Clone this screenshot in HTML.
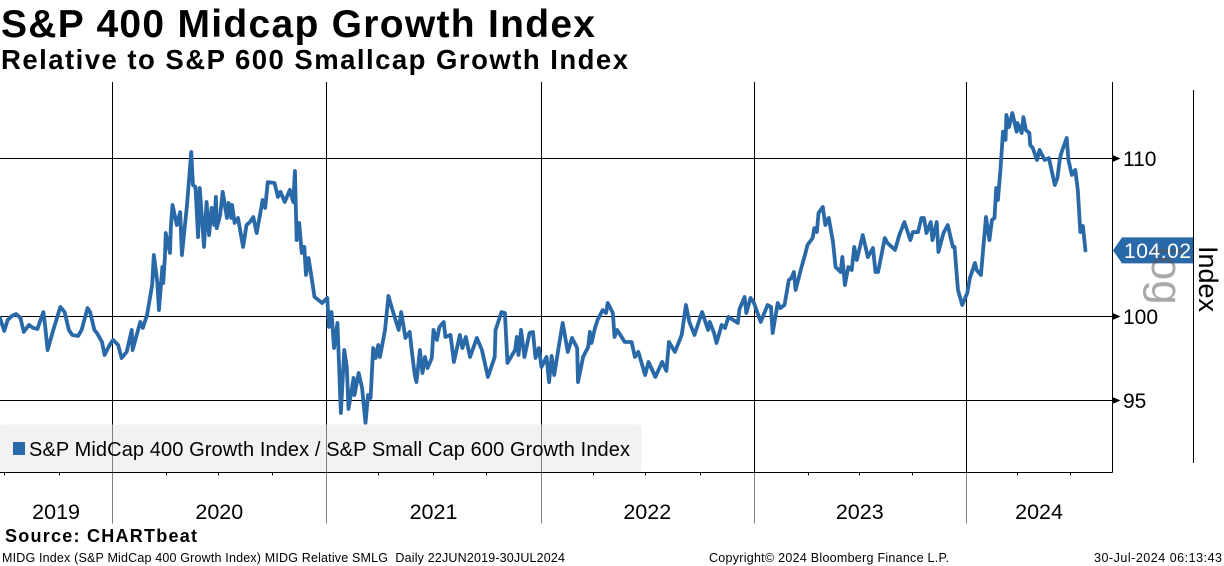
<!DOCTYPE html>
<html lang="en">
<head>
<meta charset="utf-8">
<title>S&amp;P 400 Midcap Growth Index</title>
<style>
html,body{margin:0;padding:0;background:#fff;width:1224px;height:566px;overflow:hidden}
svg{display:block}
text{font-family:"Liberation Sans",sans-serif;fill:#000}
</style>
</head>
<body>
<svg id="chart" xmlns="http://www.w3.org/2000/svg" width="1224" height="566" viewBox="0 0 1224 566">
<text x="1" y="37" font-size="39" font-weight="700" textLength="594" lengthAdjust="spacing">S&amp;P 400 Midcap Growth Index</text>
<text x="1" y="69" font-size="27.5" font-weight="700" textLength="627" lengthAdjust="spacing">Relative to S&amp;P 600 Smallcap Growth Index</text>
<g id="grid"></g>
<path id="series" fill="none" stroke="#2a69a8" stroke-width="3.8" stroke-linejoin="round" stroke-linecap="round"></path>
<rect x="0" y="424.5" width="641.5" height="47.5" rx="3" fill="#f2f2f2"></rect>
<g id="legendGrid"></g>
<rect x="13" y="442" width="12" height="13" fill="#2a69a8"></rect>
<text x="29" y="456" font-size="20" textLength="601" lengthAdjust="spacing">S&amp;P MidCap 400 Growth Index / S&amp;P Small Cap 600 Growth Index</text>
<g id="axes"></g>
<line x1="1193.5" y1="90" x2="1193.5" y2="463" stroke="#000" stroke-width="1" shape-rendering="crispEdges"></line>
<polygon id="lastTag" fill="#2a69a8"></polygon>
<text transform="translate(1152,246) rotate(90)" font-size="44" style="fill:#555" opacity="0.5">log</text>
<text id="lastLabel" x="1124" font-size="21" textLength="67" lengthAdjust="spacing" style="fill:#fff"></text>
<text transform="translate(1199,246) rotate(90)" font-size="27" textLength="66" lengthAdjust="spacing">Index</text>
<text x="5" y="542" font-size="18" font-weight="700" textLength="192" lengthAdjust="spacing">Source: CHARTbeat</text>
<text x="2" y="562" font-size="12.5" textLength="563" lengthAdjust="spacing" xml:space="preserve">MIDG Index (S&amp;P MidCap 400 Growth Index) MIDG Relative SMLG  Daily 22JUN2019-30JUL2024</text>
<text x="709" y="562" font-size="12.5" textLength="240" lengthAdjust="spacing">Copyright© 2024 Bloomberg Finance L.P.</text>
<text x="1094" y="562" font-size="12.5" textLength="128" lengthAdjust="spacing">30-Jul-2024 06:13:43</text>
</svg>
<script>
const sessions = [0,5,9,14,19,24,28,34,39,44,51,53,56,62,67,71,76,81,85,92,96,103,106,111,114,120,123,129,133,139,143,149,155,156,165,168,173,179,181,185,187,191,192,194,195,200,201,203,208,212,214,220,225,227,230,233,235,240,243,246,249,252,254,255,259,262,267,269,272,273,276,280,286,290,294,298,302,309,312,315,323,327,330,335,341,345,347,349,352,355,358,360,363,367,370,379,385,387,390,393,397,401,405,408,410,416,417,422,426,430,433,436,439,442,445,447,453,457,461,469,472,477,482,485,488,490,494,497,500,503,508,510,514,517,522,524,530,534,541,544,548,553,561,567,574,582,583,590,594,597,606,608,610,613,617,623,627,630,634,637,643,646,649,652,659,662,668,673,679,680,686,692,694,696,700,703,709,713,715,721,723,726,735,743,747,751,759,763,771,779,784,787,794,802,807,811,817,826,833,835,840,843,849,853,857,868,870,876,878,883,887,895,903,907,909,915,918,923,928,931,934,936,943,947,950,956,958,961,963,968,971,975,980,983,989,991,994,998,1002,1005,1008,1015,1021,1027,1030,1033,1041,1044,1053,1058,1064,1071,1074,1080,1084,1087,1090,1095,1097,1102,1104,1110,1115,1121,1123,1127,1132,1138,1141,1147,1149,1154,1160,1164,1167,1170,1172,1174,1177,1180,1183,1184,1187,1191,1196,1197,1202,1204,1207,1211,1212,1215,1220,1223,1229,1234,1241,1244,1247,1249,1255,1257,1261,1265,1268,1271,1274,1277];
const ratioValues = [99.85,99.07,99.73,99.97,100.09,99.85,99.01,99.43,99.25,99.19,100.21,99.43,97.93,99.01,99.85,100.52,100.21,99.13,98.83,98.77,99.13,100.45,100.21,99.13,98.95,98.41,97.64,98.23,98.53,98.23,97.46,97.82,99.13,97.93,99.61,99.25,100.03,101.86,103.73,102.05,100.33,102.98,101.98,103.60,105.12,103.86,105.50,106.92,105.63,106.46,103.73,106.92,110.40,108.22,108.09,104.86,108.02,104.24,107.11,104.99,106.73,105.63,107.44,105.43,106.27,107.77,106.08,107.05,106.08,106.92,105.76,106.08,104.24,105.63,105.82,106.14,105.12,107.24,106.73,108.41,108.35,107.44,107.77,107.11,107.90,107.11,109.14,104.67,105.76,103.86,104.24,102.48,103.54,102.17,101.13,100.76,101.07,99.31,100.21,98.05,99.55,94.27,97.93,96.93,94.50,96.29,95.30,96.58,95.70,93.70,95.30,95.13,98.05,97.46,98.23,97.52,99.13,101.19,100.45,99.13,100.21,98.65,99.01,97.64,96.46,96.05,97.93,96.58,97.52,96.87,97.46,99.13,98.53,99.31,99.61,98.71,98.83,97.23,98.83,98.05,98.71,97.52,98.65,97.93,96.35,97.52,99.13,100.21,100.15,97.17,97.93,98.71,97.64,99.13,97.52,98.95,99.01,97.46,98.05,96.93,97.52,96.05,97.58,96.46,98.65,99.55,97.82,98.65,98.05,96.05,97.52,98.11,99.01,98.35,99.25,99.73,100.33,100.15,100.76,100.15,98.71,99.13,98.41,98.41,97.52,97.82,96.46,97.23,96.35,97.23,96.70,98.41,97.82,98.83,100.64,99.61,98.83,100.21,99.13,99.61,98.95,98.35,99.43,99.25,99.91,99.55,100.39,101.13,100.15,101.07,100.76,99.61,100.64,100.52,98.95,100.76,100.45,100.64,102.17,102.29,102.67,101.56,102.98,103.73,104.36,104.80,105.43,105.18,106.40,106.79,105.63,106.08,104.55,102.98,102.67,103.60,101.86,102.98,102.79,104.24,103.42,104.99,103.60,104.17,102.67,102.67,104.80,104.49,104.05,104.99,105.82,104.67,105.18,105.18,106.08,106.08,105.12,105.82,104.67,105.82,103.92,105.12,105.63,104.24,104.24,101.56,100.64,101.37,102.29,103.23,102.79,102.48,106.14,104.67,105.95,106.08,108.02,107.24,109.21,111.77,111.21,112.90,112.08,113.04,111.77,112.36,111.68,112.76,111.87,111.68,110.87,110.67,109.87,110.54,109.87,110.00,108.22,108.68,110.00,110.40,111.35,109.87,108.88,109.21,107.90,105.18,105.57,104.02];
const yTickValues = [95,100,110];
const yearLabels = ["2019","2020","2021","2022","2023","2024"];
const yearStartSessions = [132,384,636,887,1136];
const quarterTickSessions = [4.5,69,195,257,320.5,445,509,572,698,759,824,950,1011,1073,1197,1259];

const plotRight = 1112.5, plotTop = 82, plotBottom = 472.5, legendRight = 641.5;
function xScale(s){ return s * 0.85; }
function yScale(v){ return 315.5 - 1652 * Math.log(v / 100); }
const NS = "http://www.w3.org/2000/svg";
function svgEl(tag, attrs, parent){
  const e = document.createElementNS(NS, tag);
  for (const k in attrs) e.setAttribute(k, attrs[k]);
  parent.appendChild(e);
  return e;
}
const lineAttrs = {stroke:"#000","stroke-width":1,"shape-rendering":"crispEdges"};
const grid = document.getElementById("grid");
const axes = document.getElementById("axes");
const legendGrid = document.getElementById("legendGrid");

yTickValues.forEach(function(v){
  const y = Math.round(yScale(v)) + 0.5;
  const gl = svgEl("line", Object.assign({x1:0,x2:plotRight,y1:y,y2:y}, lineAttrs), grid);
  
  
  const tick = svgEl("polygon", {points:(plotRight)+","+(y-3.5)+" "+(plotRight+8)+","+y+" "+plotRight+","+(y+3.5),fill:"#000"}, axes);
  
  
  const lab = svgEl("text", {x:1123,y:y+7.5,"font-size":21}, axes);
  
  
  lab.textContent = String(v);
});
yearStartSessions.forEach(function(s){
  const x = Math.round(xScale(s)) + 0.5;
  const gl = svgEl("line", Object.assign({x1:x,x2:x,y1:plotTop,y2:plotBottom}, lineAttrs), grid);
  
  
  if (x < legendRight) {
    const lg = svgEl("line", {x1:x,x2:x,y1:424.5,y2:472,stroke:"#808080","stroke-width":1,"shape-rendering":"crispEdges"}, legendGrid);
    
    
  }
  const dv = svgEl("line", {x1:x,x2:x,y1:plotBottom,y2:523.5,stroke:"#808080","stroke-width":1,"shape-rendering":"crispEdges"}, axes);
  
  
});
const xAxisLine = svgEl("line", Object.assign({x1:0,x2:plotRight,y1:plotBottom,y2:plotBottom}, lineAttrs), axes);


const rightAxisLine = svgEl("line", Object.assign({x1:plotRight,x2:plotRight,y1:plotTop,y2:plotBottom}, lineAttrs), axes);


quarterTickSessions.forEach(function(s){
  const x = Math.round(xScale(s)) + 0.5;
  const t = svgEl("line", Object.assign({x1:x,x2:x,y1:plotBottom,y2:plotBottom+3}, lineAttrs), axes);
  
  
});
const yearEdges = [xScale(0)].concat(yearStartSessions.map(xScale), [plotRight]);
yearLabels.forEach(function(label, i){
  const t = svgEl("text", {x:(yearEdges[i]+yearEdges[i+1])/2,y:519,"font-size":21.5,"text-anchor":"middle"}, axes);
  
  
  t.textContent = label;
});
document.getElementById("series").setAttribute("d", sessions.map(function(s,i){
  return (i ? "L" : "M") + xScale(s).toFixed(2) + " " + yScale(ratioValues[i]).toFixed(2);
}).join(""));
const lastValue = ratioValues[ratioValues.length-1];
const tagY = yScale(lastValue);
document.getElementById("lastTag").setAttribute("points",
  "1113,"+tagY+" 1122,"+(tagY-13)+" 1193,"+(tagY-13)+" 1193,"+(tagY+13)+" 1122,"+(tagY+13));
const lastLabel = document.getElementById("lastLabel");
lastLabel.setAttribute("y", tagY + 7.5);
lastLabel.textContent = lastValue.toFixed(2);
</script>
</body>
</html>
